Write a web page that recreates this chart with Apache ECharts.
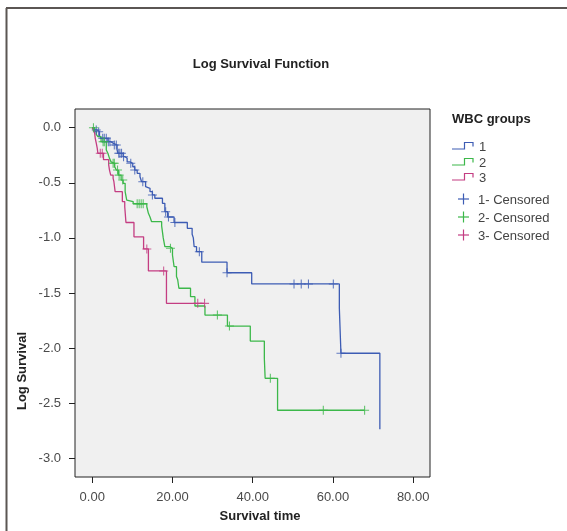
<!DOCTYPE html>
<html>
<head>
<meta charset="utf-8">
<script src="https://cdn.jsdelivr.net/npm/echarts@6/dist/echarts.min.js"></script>
<style>
html,body{margin:0;padding:0;background:#fff;}
#chart{width:567px;height:531px;}
</style>
</head>
<body>
<div id="chart"></div>
<script>
// ---- Data ----
const titleText = 'Log Survival Function';
const xTitle = 'Survival time';
const yTitle = 'Log Survival';
const legendTitle = 'WBC groups';
const groupNames = ['1', '2', '3'];
const censorNames = ['1- Censored', '2- Censored', '3- Censored'];
const xTicks = [0, 20, 40, 60, 80];
const yTicks = [0, -0.5, -1.0, -1.5, -2.0, -2.5, -3.0];

// Group 1 (blue): event times and log survival after each event
const g1Times = [0, 0.6, 1.25, 1.8, 2.2, 3.9, 4.6, 5.2, 6.2, 6.4, 7.7, 8.2, 8.7, 9.4, 10.1, 10.6, 11.2, 11.9, 12.3, 13.3, 13.6, 14.4, 15.0, 15.6, 17.5, 18.1, 18.8, 20.4, 23.7, 24.9, 25.2, 25.4, 26.0, 27.3, 33.6, 39.75, 61.6, 62.0, 71.7];
const g1LogS = [0, -0.02, -0.036, -0.07, -0.096, -0.127, -0.14, -0.157, -0.202, -0.232, -0.263, -0.278, -0.31, -0.323, -0.354, -0.384, -0.414, -0.445, -0.49, -0.535, -0.55, -0.58, -0.61, -0.64, -0.686, -0.762, -0.81, -0.86, -0.913, -0.967, -1.0, -1.08, -1.125, -1.22, -1.316, -1.418, -1.639, -2.047, -2.737];
const g1End = 71.7;
const g1Censor = [1.0, 1.6, 2.6, 3.0, 3.5, 4.0, 4.4, 5.5, 6.0, 6.6, 6.9, 7.3, 7.8, 9.6, 10.6, 12.6, 15.0, 18.3, 19.0, 20.6, 26.7, 33.6, 50.3, 52.1, 53.9, 60.1, 62.0];

// Group 2 (green)
const g2Times = [0, 0.5, 1.0, 1.4, 2.2, 3.5, 3.9, 4.3, 4.7, 5.0, 5.6, 6.0, 6.5, 7.2, 7.7, 8.2, 8.6, 9.0, 10.2, 13.6, 14.0, 14.4, 14.8, 17.3, 17.7, 18.1, 19.4, 20.0, 20.4, 21.0, 21.3, 21.6, 24.5, 25.6, 28.1, 33.7, 39.4, 42.9, 43.1, 46.2];
const g2LogS = [0, -0.03, -0.06, -0.08, -0.127, -0.202, -0.232, -0.278, -0.31, -0.323, -0.354, -0.384, -0.43, -0.475, -0.505, -0.58, -0.656, -0.67, -0.69, -0.717, -0.777, -0.81, -0.853, -0.89, -1.0, -1.08, -1.094, -1.155, -1.26, -1.35, -1.38, -1.457, -1.533, -1.618, -1.70, -1.80, -1.936, -2.093, -2.274, -2.564];
const g2End = 67.9;
const g2Censor = [0.3, 2.7, 3.0, 5.2, 5.5, 6.3, 6.7, 7.6, 11.2, 11.7, 12.2, 12.7, 19.5, 31.2, 34.2, 44.4, 57.6, 67.9];

// Group 3 (magenta)
const g3Times = [0, 0.4, 0.6, 0.75, 1.0, 1.25, 1.4, 2.8, 4.1, 4.3, 4.6, 5.2, 5.4, 5.7, 7.5, 8.1, 8.4, 10.4, 12.8, 14.0, 18.5];
const g3LogS = [0, -0.03, -0.05, -0.096, -0.14, -0.187, -0.232, -0.29, -0.338, -0.384, -0.43, -0.46, -0.49, -0.58, -0.67, -0.717, -0.86, -0.99, -1.10, -1.30, -1.594];
const g3End = 28.0;
const g3Censor = [2.0, 2.5, 13.6, 17.8, 26.3, 28.0];

const colors = ['#3d5cb4', '#3cb84a', '#c43d82'];

// ---- Build series ----
function stepData(times, vals, end) {
  const d = times.map((t, i) => [t, vals[i]]);
  const last = times[times.length - 1];
  if (end > last) d.push([end, vals[vals.length - 1]]);
  return d;
}
function levelAt(times, vals, t) {
  let v = vals[0];
  for (let i = 0; i < times.length; i++) { if (times[i] <= t + 1e-9) v = vals[i]; }
  return v;
}
function censorData(times, vals, cens) {
  return cens.map(t => [t, levelAt(times, vals, t)]);
}

const groups = [
  [g1Times, g1LogS, g1End, g1Censor],
  [g2Times, g2LogS, g2End, g2Censor],
  [g3Times, g3LogS, g3End, g3Censor]
];

const crossPath = 'path://M-0.12,-1 L0.12,-1 L0.12,-0.12 L1,-0.12 L1,0.12 L0.12,0.12 L0.12,1 L-0.12,1 L-0.12,0.12 L-1,0.12 L-1,-0.12 L-0.12,-0.12 Z';

const series = [];
groups.forEach((g, i) => {
  series.push({
    name: groupNames[i], type: 'line', step: 'end',
    data: stepData(g[0], g[1], g[2]),
    showSymbol: false, silent: true, z: 2,
    lineStyle: { color: colors[i], width: 1.3 }
  });
});
groups.forEach((g, i) => {
  series.push({
    name: censorNames[i], type: 'scatter',
    data: censorData(g[0], g[1], g[3]),
    symbol: crossPath, symbolSize: 9, silent: true, z: 3,
    itemStyle: { color: colors[i] }
  });
});

// ---- Frame, titles and legend (graphic) ----
const fontFam = '"Liberation Sans", Arial, Helvetica, sans-serif';
const graphics = [
  { type: 'line', shape: { x1: 6.5, y1: 8, x2: 6.5, y2: 531 }, style: { stroke: '#5b5653', lineWidth: 2 } },
  { type: 'line', shape: { x1: 6, y1: 8, x2: 567, y2: 8 }, style: { stroke: '#5b5653', lineWidth: 2 } },
  { type: 'text', style: { text: titleText, font: 'bold 13px ' + fontFam, fill: '#222', x: 261, y: 64, align: 'center', verticalAlign: 'middle' } },
  { type: 'text', style: { text: xTitle, font: 'bold 13px ' + fontFam, fill: '#222', x: 260, y: 516, align: 'center', verticalAlign: 'middle' } },
  { type: 'text', x: 22, y: 371, rotation: Math.PI / 2, style: { text: yTitle, font: 'bold 13px ' + fontFam, fill: '#222', x: 0, y: 0, align: 'center', verticalAlign: 'middle' } },
  { type: 'text', style: { text: legendTitle, font: 'bold 13px ' + fontFam, fill: '#222', x: 452, y: 119, align: 'left', verticalAlign: 'middle' } }
];
const lineIconY = [149, 165, 180];
groupNames.forEach((n, i) => {
  const y = lineIconY[i];
  graphics.push({ type: 'polyline', shape: { points: [[452, y], [464.5, y], [464.5, y - 6.5], [473, y - 6.5], [473, y - 2.5]] }, style: { stroke: colors[i], lineWidth: 1.2, fill: null } });
  graphics.push({ type: 'text', style: { text: n, font: '13px ' + fontFam, fill: '#444', x: 479, y: y - 2, align: 'left', verticalAlign: 'middle' } });
});
const crossY = [199, 217, 235];
censorNames.forEach((n, i) => {
  const y = crossY[i];
  graphics.push({ type: 'line', shape: { x1: 458, y1: y, x2: 469, y2: y }, style: { stroke: colors[i], lineWidth: 1.2 } });
  graphics.push({ type: 'line', shape: { x1: 463.5, y1: y - 5.5, x2: 463.5, y2: y + 5.5 }, style: { stroke: colors[i], lineWidth: 1.2 } });
  graphics.push({ type: 'text', style: { text: n, font: '13px ' + fontFam, fill: '#444', x: 478, y: y + 1, align: 'left', verticalAlign: 'middle' } });
});

const chart = echarts.init(document.getElementById('chart'), null, { renderer: 'canvas' });
chart.setOption({
  animation: false,
  backgroundColor: '#ffffff',
  grid: { left: 75, top: 109, width: 355, height: 368, show: true, backgroundColor: '#f0f0f0', borderColor: '#222', borderWidth: 1, containLabel: false },
  xAxis: {
    type: 'value', min: -4.3, max: 84.2, position: 'bottom',
    splitLine: { show: false },
    axisLine: { show: false, onZero: false },
    axisTick: { show: true, inside: false, customValues: xTicks, length: 6, lineStyle: { color: '#222', width: 1 } },
    axisLabel: { customValues: xTicks, margin: 14, color: '#4a4a4a', fontSize: 13, fontFamily: fontFam, formatter: v => v.toFixed(2) }
  },
  yAxis: {
    type: 'value', min: -3.17, max: 0.17, position: 'left',
    splitLine: { show: false },
    axisLine: { show: false, onZero: false },
    axisTick: { show: true, inside: false, customValues: yTicks, length: 6, lineStyle: { color: '#222', width: 1 } },
    axisLabel: { customValues: yTicks, margin: 14, color: '#4a4a4a', fontSize: 13, fontFamily: fontFam, formatter: v => v.toFixed(1) }
  },
  series: series,
  graphic: graphics
});
</script>
</body>
</html>
